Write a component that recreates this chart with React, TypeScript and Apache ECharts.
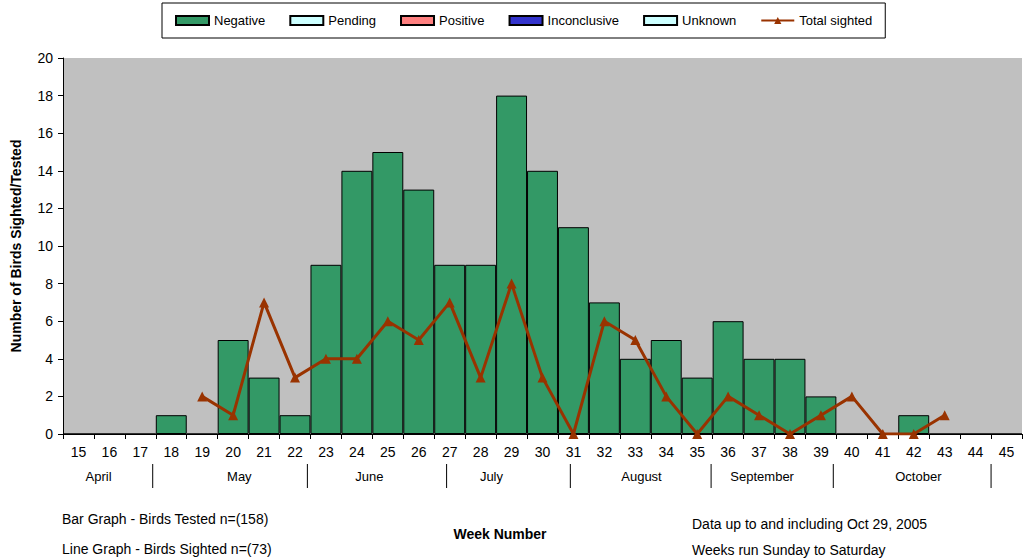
import React, { useEffect, useRef } from "react";
import * as echarts from "echarts";

const weeks = ["15","16","17","18","19","20","21","22","23","24","25","26","27","28","29","30","31","32","33","34","35","36","37","38","39","40","41","42","43","44","45"];
const negative = [0,0,0,1,0,5,3,1,9,14,15,13,9,9,18,14,11,7,4,5,3,6,4,4,2,0,0,1,0,0,0];
const pending: number[] = [];
const positive: number[] = [];
const inconclusive: number[] = [];
const unknown: number[] = [];
const totalSighted = [null,null,null,null,2,1,7,3,4,4,6,5,7,3,8,3,0,6,5,2,0,2,1,0,1,2,0,0,1,null,null];
const yTicks = { min: 0, max: 20, interval: 2 };
const monthNames = ["April","May","June","July","August","September","October"];
const monthCenters = [15.65, 20.2, 24.4, 28.35, 33.2, 37.1, 42.15];
const monthBoundaries = [17.4, 22.4, 26.9, 30.9, 35.45, 39.4, 44.5];

const FONT = "'Liberation Sans', Arial, sans-serif";

export default function App() {
  const ref = useRef<HTMLDivElement>(null);
  useEffect(() => {
    document.body.style.margin = "0";
    if (!ref.current) return;
    const chart = echarts.init(ref.current, null, { renderer: "svg" });
    const W = 1023, H = 560;
    const gLeft = 63, gRight = 1, gTop = 58, gBottom = 126;
    const catW = (W - gLeft - gRight) / weeks.length;
    const wx = (w: number) => gLeft + (w - 15 + 0.5) * catW;

    const graphics: any[] = [];
    monthNames.forEach((m, i) => {
      graphics.push({
        type: "text", x: wx(monthCenters[i]), y: 476,
        style: { text: m, fill: "#000", font: `13px ${FONT}`, align: "center", verticalAlign: "middle" },
      });
    });
    monthBoundaries.forEach((b) => {
      graphics.push({
        type: "line", shape: { x1: wx(b), y1: 464, x2: wx(b), y2: 488 },
        style: { stroke: "#000", lineWidth: 1 },
      });
    });
    graphics.push(
      { type: "text", x: 16, y: 246, rotation: Math.PI / 2,
        style: { text: "Number of Birds Sighted/Tested", fill: "#000", font: `bold 14px ${FONT}`, align: "center", verticalAlign: "middle" } },
      { type: "text", x: 62, y: 519, style: { text: "Bar Graph - Birds Tested n=(158)", fill: "#000", font: `14px ${FONT}`, align: "left", verticalAlign: "middle" } },
      { type: "text", x: 62, y: 549, style: { text: "Line Graph - Birds Sighted n=(73)", fill: "#000", font: `14px ${FONT}`, align: "left", verticalAlign: "middle" } },
      { type: "text", x: 500, y: 534, style: { text: "Week Number", fill: "#000", font: `bold 14px ${FONT}`, align: "center", verticalAlign: "middle" } },
      { type: "text", x: 692, y: 524, style: { text: "Data up to and including Oct 29, 2005", fill: "#000", font: `14px ${FONT}`, align: "left", verticalAlign: "middle" } },
      { type: "text", x: 692, y: 550, style: { text: "Weeks run Sunday to Saturday", fill: "#000", font: `14px ${FONT}`, align: "left", verticalAlign: "middle" } },
    );

    const emptyBar = (name: string, data: number[], color: string) => ({
      name, type: "bar", stack: "t", data,
      itemStyle: { color, borderColor: "#000", borderWidth: 1 },
    });

    chart.setOption({
      animation: false,
      textStyle: { fontFamily: FONT },
      legend: {
        left: 162, top: 3,
        padding: [11, 13],
        itemGap: 24, itemWidth: 33, itemHeight: 9,
        borderColor: "#000", borderWidth: 1,
        textStyle: { fontSize: 13, color: "#000", fontFamily: FONT },
        data: [
          { name: "Negative", icon: "rect" },
          { name: "Pending", icon: "rect" },
          { name: "Positive", icon: "rect" },
          { name: "Inconclusive", icon: "rect" },
          { name: "Unknown", icon: "rect" },
          { name: "Total sighted" },
        ],
      },
      grid: { left: gLeft, right: gRight, top: gTop, bottom: gBottom, show: true, backgroundColor: "#C0C0C0", borderWidth: 0 },
      xAxis: {
        type: "category", data: weeks, boundaryGap: true,
        axisLine: { lineStyle: { color: "#000", width: 1 } },
        axisTick: { show: true, alignWithLabel: false, length: 5, lineStyle: { color: "#000" } },
        axisLabel: { color: "#000", fontSize: 14, margin: 11, interval: 0, fontFamily: FONT },
        splitLine: { show: false },
      },
      yAxis: {
        type: "value", min: yTicks.min, max: yTicks.max, interval: yTicks.interval,
        axisLine: { show: true, lineStyle: { color: "#000", width: 1 } },
        axisTick: { show: true, length: 5, lineStyle: { color: "#000" } },
        axisLabel: { color: "#000", fontSize: 14, margin: 10, fontFamily: FONT },
        splitLine: { show: false },
      },
      series: [
        { name: "Negative", type: "bar", stack: "t", data: negative, barCategoryGap: "0%",
          itemStyle: { color: "#339966", borderColor: "#000", borderWidth: 1 } },
        emptyBar("Pending", pending, "#CCFFFF"),
        emptyBar("Positive", positive, "#FF8080"),
        emptyBar("Inconclusive", inconclusive, "#3333CC"),
        emptyBar("Unknown", unknown, "#CCFFFF"),
        { name: "Total sighted", type: "line", data: totalSighted, connectNulls: false,
          symbol: "triangle", symbolSize: 10, z: 5,
          lineStyle: { color: "#993300", width: 3 },
          itemStyle: { color: "#993300" } },
      ],
      graphic: graphics,
    });
    return () => chart.dispose();
  }, []);
  return <div ref={ref} style={{ width: 1023, height: 560 }} />;
}
